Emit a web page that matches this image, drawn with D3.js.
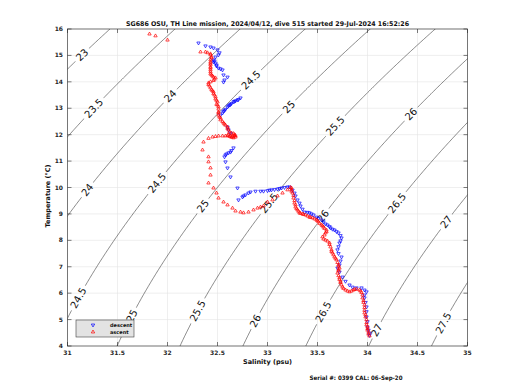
<!DOCTYPE html>
<html>
<head>
<meta charset="utf-8">
<script src="https://cdn.jsdelivr.net/npm/d3@7/dist/d3.min.js"></script>
<style>
body { margin: 0; background: #fff; }
svg text { font-family: "DejaVu Sans", sans-serif; }
</style>
</head>
<body>
<svg id="chart" width="520" height="390"></svg>
<script>
// axis ticks
var salinityTicks = [31, 31.5, 32, 32.5, 33, 33.5, 34, 34.5, 35];
var temperatureTicks = [4, 5, 6, 7, 8, 9, 10, 11, 12, 13, 14, 15, 16];

// sigma-theta contour levels and where their labels sit ([level, temperature])
var sigmaLevels = [22.5, 23, 23.5, 24, 24.5, 25, 25.5, 26, 26.5, 27, 27.5, 28];
var sigmaLabels = [
  [23, 15.02], [23.5, 13.0], [24, 13.46], [24, 9.91],
  [24.5, 14.07], [24.5, 10.17], [24.5, 5.82],
  [25, 13.05], [25, 9.3], [25, 5.14],
  [25.5, 12.33], [25.5, 9.41], [25.5, 5.33],
  [26, 12.78], [26, 8.92], [26, 4.95],
  [26.5, 9.41], [26.5, 5.29],
  [27, 8.7], [27, 4.6], [27.5, 4.87]
];

// descent profile [salinity, temperature]
var descent = [
  [32.31,15.47],[32.38,15.36],[32.43,15.32],[32.46,15.28],[32.50,15.21],[32.52,15.10],[32.51,15.02],
  [32.48,14.94],[32.46,14.83],[32.47,14.79],[32.46,14.75],[32.48,14.71],[32.49,14.64],[32.49,14.60],
  [32.51,14.52],[32.53,14.49],[32.55,14.45],[32.56,14.26],[32.60,14.18],[32.57,14.07],[32.56,13.99],
  [32.73,13.39],[32.71,13.33],[32.70,13.31],[32.68,13.28],[32.67,13.26],[32.66,13.24],[32.64,13.18],
  [32.63,13.14],[32.62,13.12],[32.61,13.09],[32.60,13.05],[32.58,12.96],[32.57,12.92],[32.56,12.88],
  [32.55,12.82],[32.53,12.74],
  [32.60,12.29],[32.61,12.18],[32.63,12.06],
  [32.66,11.50],[32.64,11.40],[32.63,11.34],[32.61,11.31],[32.59,11.27],[32.58,11.23],[32.57,11.16],
  [32.58,10.97],[32.60,10.74],[32.63,10.40],
  [32.70,9.98],[32.71,9.53],[32.75,9.64],[32.76,9.68],[32.78,9.72],[32.81,9.79],[32.83,9.83],
  [32.88,9.86],[32.93,9.86],[32.96,9.86],[33.00,9.88],[33.02,9.90],[33.04,9.91],[33.07,9.92],
  [33.10,9.94],[33.12,9.96],[33.14,9.98],[33.17,10.00],[33.20,10.02],[33.22,10.02],
  [33.25,9.90],[33.27,9.79],[33.28,9.68],[33.30,9.53],[33.32,9.41],[33.33,9.30],[33.35,9.18],
  [33.37,9.07],[33.40,9.06],[33.42,9.04],[33.44,9.00],[33.46,8.96],[33.49,8.88],[33.51,8.83],
  [33.54,8.77],[33.56,8.70],[33.58,8.62],[33.60,8.58],[33.62,8.52],[33.63,8.47],[33.65,8.42],
  [33.67,8.39],[33.69,8.33],[33.71,8.28],[33.73,8.18],[33.74,8.09],[33.73,7.98],[33.72,7.90],
  [33.71,7.76],[33.70,7.64],[33.71,7.50],[33.74,7.37],[33.73,7.22],[33.72,7.07],[33.70,6.95],
  [33.72,6.80],[33.75,6.61],[33.78,6.45],[33.82,6.31],[33.85,6.23],[33.89,6.20],[33.94,6.20],
  [33.97,6.12],[33.99,6.05],[33.97,5.93],[33.97,5.82],[33.98,5.65],[33.99,5.48],[33.99,5.30],
  [33.99,5.10],[34.00,4.92],[34.00,4.72],[34.01,4.60],[34.02,4.49],[34.02,4.40]
];

// ascent profile [salinity, temperature]
var ascent = [
  [34.02,4.38],[34.01,4.45],[34.01,4.52],[34.00,4.60],[34.00,4.66],[34.00,4.72],[33.99,4.80],
  [33.99,4.88],[33.99,5.00],[33.98,5.10],[33.98,5.18],[33.97,5.25],[33.97,5.35],[33.97,5.45],
  [33.97,5.55],[33.96,5.65],[33.96,5.72],[33.95,5.82],[33.95,5.93],[33.94,6.02],[33.93,6.08],
  [33.92,6.12],[33.89,6.15],[33.87,6.14],[33.86,6.12],[33.84,6.08],[33.82,6.05],[33.80,6.08],
  [33.78,6.12],[33.76,6.18],[33.75,6.23],[33.74,6.31],[33.73,6.40],[33.73,6.45],[33.72,6.52],
  [33.72,6.58],[33.71,6.66],[33.70,6.76],[33.71,6.84],[33.71,6.90],[33.72,6.95],[33.71,7.02],
  [33.71,7.07],[33.70,7.16],[33.69,7.26],[33.68,7.32],[33.67,7.37],[33.66,7.45],[33.65,7.52],
  [33.64,7.58],[33.64,7.64],[33.63,7.75],[33.62,7.84],[33.62,7.90],[33.60,7.97],[33.58,8.01],
  [33.56,8.05],[33.55,8.13],[33.57,8.20],[33.58,8.28],[33.59,8.33],[33.59,8.39],[33.57,8.45],
  [33.56,8.50],[33.55,8.55],[33.54,8.58],[33.52,8.64],[33.51,8.70],[33.50,8.74],[33.49,8.77],
  [33.47,8.81],[33.45,8.85],[33.43,8.87],[33.42,8.88],[33.40,8.92],[33.38,8.96],[33.36,8.98],
  [33.35,9.00],[33.33,9.02],[33.32,9.04],[33.31,9.10],[33.30,9.15],[33.29,9.20],[33.28,9.26],
  [33.28,9.34],[33.27,9.41],[33.27,9.50],[33.26,9.60],[33.26,9.70],[33.25,9.79],[33.24,9.86],
  [33.24,9.91],[33.24,9.98],[33.23,10.00],
  [33.20,9.91],[33.15,9.79],[33.10,9.68],[33.05,9.53],[33.00,9.45],[32.96,9.30],[32.93,9.26],
  [32.90,9.22],[32.86,9.15],[32.81,9.07],[32.76,9.04],[32.73,9.07],[32.68,9.11],[32.65,9.22],
  [32.60,9.34],[32.56,9.45],[32.51,9.60],[32.49,9.79],[32.46,9.98],
  [32.41,10.17],[32.43,10.47],[32.43,10.74],[32.41,10.97],[32.41,11.16],[32.35,11.42],[32.36,11.72],
  [32.41,11.86],[32.45,11.91],[32.48,11.93],[32.51,11.95],[32.55,11.95],[32.58,11.95],[32.60,11.97],
  [32.61,11.99],[32.62,11.93],[32.63,11.95],[32.64,11.90],[32.65,11.92],[32.66,11.88],[32.67,11.95],
  [32.68,11.91],[32.68,11.97],[32.67,12.00],[32.66,12.04],[32.64,12.06],[32.62,12.10],[32.61,12.18],
  [32.60,12.24],[32.60,12.29],[32.58,12.36],[32.57,12.40],[32.56,12.44],[32.55,12.50],[32.53,12.56],
  [32.53,12.63],[32.52,12.67],[32.51,12.74],[32.51,12.82],[32.51,12.86],[32.51,12.97],[32.51,13.05],
  [32.50,13.12],[32.49,13.15],[32.50,13.24],[32.49,13.30],[32.48,13.35],[32.48,13.43],[32.47,13.50],
  [32.46,13.55],[32.46,13.62],[32.45,13.66],[32.44,13.70],[32.43,13.77],[32.42,13.84],[32.41,13.90],
  [32.41,13.96],[32.43,14.00],[32.46,14.05],[32.47,14.10],[32.48,14.15],[32.46,14.18],[32.45,14.22],
  [32.44,14.26],[32.43,14.30],[32.43,14.38],[32.43,14.45],[32.43,14.52],[32.43,14.56],[32.43,14.64],
  [32.43,14.70],[32.43,14.75],[32.43,14.83],[32.44,14.90],[32.44,14.94],[32.43,15.02],[32.43,15.06],
  [32.40,15.10],[32.38,15.13],[32.33,15.13],
  [31.82,15.81],[31.88,15.74],[32.00,15.58]
];

var titleText = "SG686 OSU, TH Line mission, 2024/04/12, dive 515 started 29-Jul-2024 16:52:26";
var serialText = "Serial #: 0399  CAL: 06-Sep-20";

var svg = d3.select("#chart");
var x = d3.scaleLinear().domain([31, 35]).range([67.5, 467.5]);
var y = d3.scaleLinear().domain([4, 16]).range([346, 29]);

// UNESCO 1980 density at the surface, minus 1000
function sigma(s, t) {
  var rw = 999.842594 + 6.793952e-2 * t - 9.095290e-3 * t * t + 1.001685e-4 * t * t * t
    - 1.120083e-6 * Math.pow(t, 4) + 6.536332e-9 * Math.pow(t, 5);
  var a = 0.824493 - 4.0899e-3 * t + 7.6438e-5 * t * t - 8.2467e-7 * t * t * t + 5.3875e-9 * Math.pow(t, 4);
  var b = -5.72466e-3 + 1.0227e-4 * t - 1.6546e-6 * t * t;
  return rw + a * s + b * Math.pow(s, 1.5) + 4.8314e-4 * s * s - 1000;
}
function salinityAt(level, t) {
  var lo = 20, hi = 45;
  for (var i = 0; i < 50; i++) {
    var mid = (lo + hi) / 2;
    if (sigma(mid, t) < level) lo = mid; else hi = mid;
  }
  return (lo + hi) / 2;
}

var defs = svg.append("defs");
defs.append("clipPath").attr("id", "plot").append("rect")
  .attr("x", x(31)).attr("y", y(16)).attr("width", x(35) - x(31)).attr("height", y(4) - y(16));

// grid
var grid = svg.append("g").attr("stroke", "#e4e4e4").attr("stroke-width", 0.6);
grid.selectAll(".gx").data(salinityTicks).enter().append("line")
  .attr("x1", d => x(d)).attr("x2", d => x(d)).attr("y1", y(4)).attr("y2", y(16));
grid.selectAll(".gy").data(temperatureTicks).enter().append("line")
  .attr("y1", d => y(d)).attr("y2", d => y(d)).attr("x1", x(31)).attr("x2", x(35));

// contour labels first so the line gaps can be sized
var labelG = svg.append("g").attr("clip-path", "url(#plot)");
var tSteps = d3.range(3.0, 17.01, 0.05);
var labelInfo = sigmaLabels.map(function (d) {
  var s0 = salinityAt(d[0], d[1]), s1 = salinityAt(d[0], d[1] + 0.05);
  var px = x(s0), py = y(d[1]);
  var ang = Math.atan2(y(d[1] + 0.05) - py, x(s1) - px) * 180 / Math.PI;
  return { text: String(d[0]), x: px, y: py, angle: ang };
});
var labels = labelG.selectAll("text").data(labelInfo).enter().append("text")
  .attr("transform", d => "translate(" + d.x + "," + d.y + ") rotate(" + d.angle + ")")
  .attr("text-anchor", "middle").attr("dy", "0.35em")
  .attr("font-size", 10).attr("fill", "#111")
  .text(d => d.text);
labels.each(function (d) { d.w = this.getComputedTextLength(); });

var mask = defs.append("mask").attr("id", "gaps").attr("maskUnits", "userSpaceOnUse")
  .attr("x", 0).attr("y", 0).attr("width", 520).attr("height", 390);
mask.append("rect").attr("width", 520).attr("height", 390).attr("fill", "#fff");
mask.selectAll(".gap").data(labelInfo).enter().append("rect")
  .attr("transform", d => "translate(" + d.x + "," + d.y + ") rotate(" + d.angle + ")")
  .attr("x", d => -d.w / 2 - 3).attr("y", -6).attr("width", d => d.w + 6).attr("height", 12)
  .attr("fill", "#000");

var line = d3.line().x(d => x(d[0])).y(d => y(d[1]));
svg.append("g").attr("clip-path", "url(#plot)").append("g").attr("mask", "url(#gaps)")
  .selectAll("path").data(sigmaLevels).enter().append("path")
  .attr("d", lv => line(tSteps.map(t => [salinityAt(lv, t), t])))
  .attr("fill", "none").attr("stroke", "#3a3a3a").attr("stroke-width", 0.6);

// profiles
var tri = d3.symbol().type(d3.symbolTriangle).size(5)();
var pts = svg.append("g").attr("clip-path", "url(#plot)");
pts.selectAll(".dn").data(descent).enter().append("path")
  .attr("d", tri)
  .attr("transform", d => "translate(" + x(d[0]) + "," + y(d[1]) + ") rotate(180)")
  .attr("fill", "none").attr("stroke", "#0000ff").attr("stroke-width", 0.7);
pts.selectAll(".up").data(ascent).enter().append("path")
  .attr("d", tri)
  .attr("transform", d => "translate(" + x(d[0]) + "," + y(d[1]) + ")")
  .attr("fill", "none").attr("stroke", "#ff0000").attr("stroke-width", 0.7);

// axes box with inward ticks
var axG = svg.append("g").attr("stroke", "#262626").attr("stroke-width", 0.6);
axG.append("rect").attr("x", x(31)).attr("y", y(16)).attr("width", x(35) - x(31))
  .attr("height", y(4) - y(16)).attr("fill", "none");
salinityTicks.forEach(function (s) {
  axG.append("line").attr("x1", x(s)).attr("x2", x(s)).attr("y1", y(4)).attr("y2", y(4) - 4);
  axG.append("line").attr("x1", x(s)).attr("x2", x(s)).attr("y1", y(16)).attr("y2", y(16) + 4);
});
temperatureTicks.forEach(function (t) {
  axG.append("line").attr("y1", y(t)).attr("y2", y(t)).attr("x1", x(31)).attr("x2", x(31) + 4);
  axG.append("line").attr("y1", y(t)).attr("y2", y(t)).attr("x1", x(35)).attr("x2", x(35) - 4);
});

var tickFmt = d3.format("");
svg.append("g").selectAll("text").data(salinityTicks).enter().append("text")
  .attr("x", d => x(d)).attr("y", 355).attr("text-anchor", "middle")
  .attr("font-size", 6).attr("font-weight", "bold").attr("fill", "#262626")
  .text(d => tickFmt(d));
svg.append("g").selectAll("text").data(temperatureTicks).enter().append("text")
  .attr("x", 63).attr("y", d => y(d) + 2).attr("text-anchor", "end")
  .attr("font-size", 6).attr("font-weight", "bold").attr("fill", "#262626")
  .text(d => tickFmt(d));

svg.append("text").attr("x", 267.5).attr("y", 26).attr("text-anchor", "middle")
  .attr("font-size", 6.5).attr("font-weight", "bold").attr("fill", "#111")
  .attr("textLength", 283).attr("lengthAdjust", "spacingAndGlyphs").text(titleText);
svg.append("text").attr("x", 267.5).attr("y", 364).attr("text-anchor", "middle")
  .attr("font-size", 6.5).attr("font-weight", "bold").attr("fill", "#111")
  .text("Salinity (psu)");
svg.append("text").attr("transform", "translate(50,196) rotate(-90)").attr("text-anchor", "middle")
  .attr("font-size", 6.5).attr("font-weight", "bold").attr("fill", "#111")
  .text("Temperature (°C)");
svg.append("text").attr("x", 356).attr("y", 380).attr("text-anchor", "middle")
  .attr("font-size", 6).attr("font-weight", "bold").attr("fill", "#111")
  .attr("textLength", 93).attr("lengthAdjust", "spacingAndGlyphs").text(serialText);

// legend
var lg = svg.append("g");
lg.append("rect").attr("x", 76).attr("y", 320).attr("width", 58).attr("height", 17)
  .attr("fill", "#e3e3e3").attr("stroke", "#404040").attr("stroke-width", 0.6);
var legendItems = [["descent", "#0000ff", 180], ["ascent", "#ff0000", 0]];
legendItems.forEach(function (it, i) {
  var yy = 325 + i * 7;
  lg.append("path").attr("d", tri)
    .attr("transform", "translate(93," + yy + ") rotate(" + it[2] + ")")
    .attr("fill", "none").attr("stroke", it[1]).attr("stroke-width", 0.7);
  lg.append("text").attr("x", 110).attr("y", yy + 1.8).attr("font-size", 5)
    .attr("font-weight", "bold").attr("fill", "#111").text(it[0]);
});
</script>
</body>
</html>
